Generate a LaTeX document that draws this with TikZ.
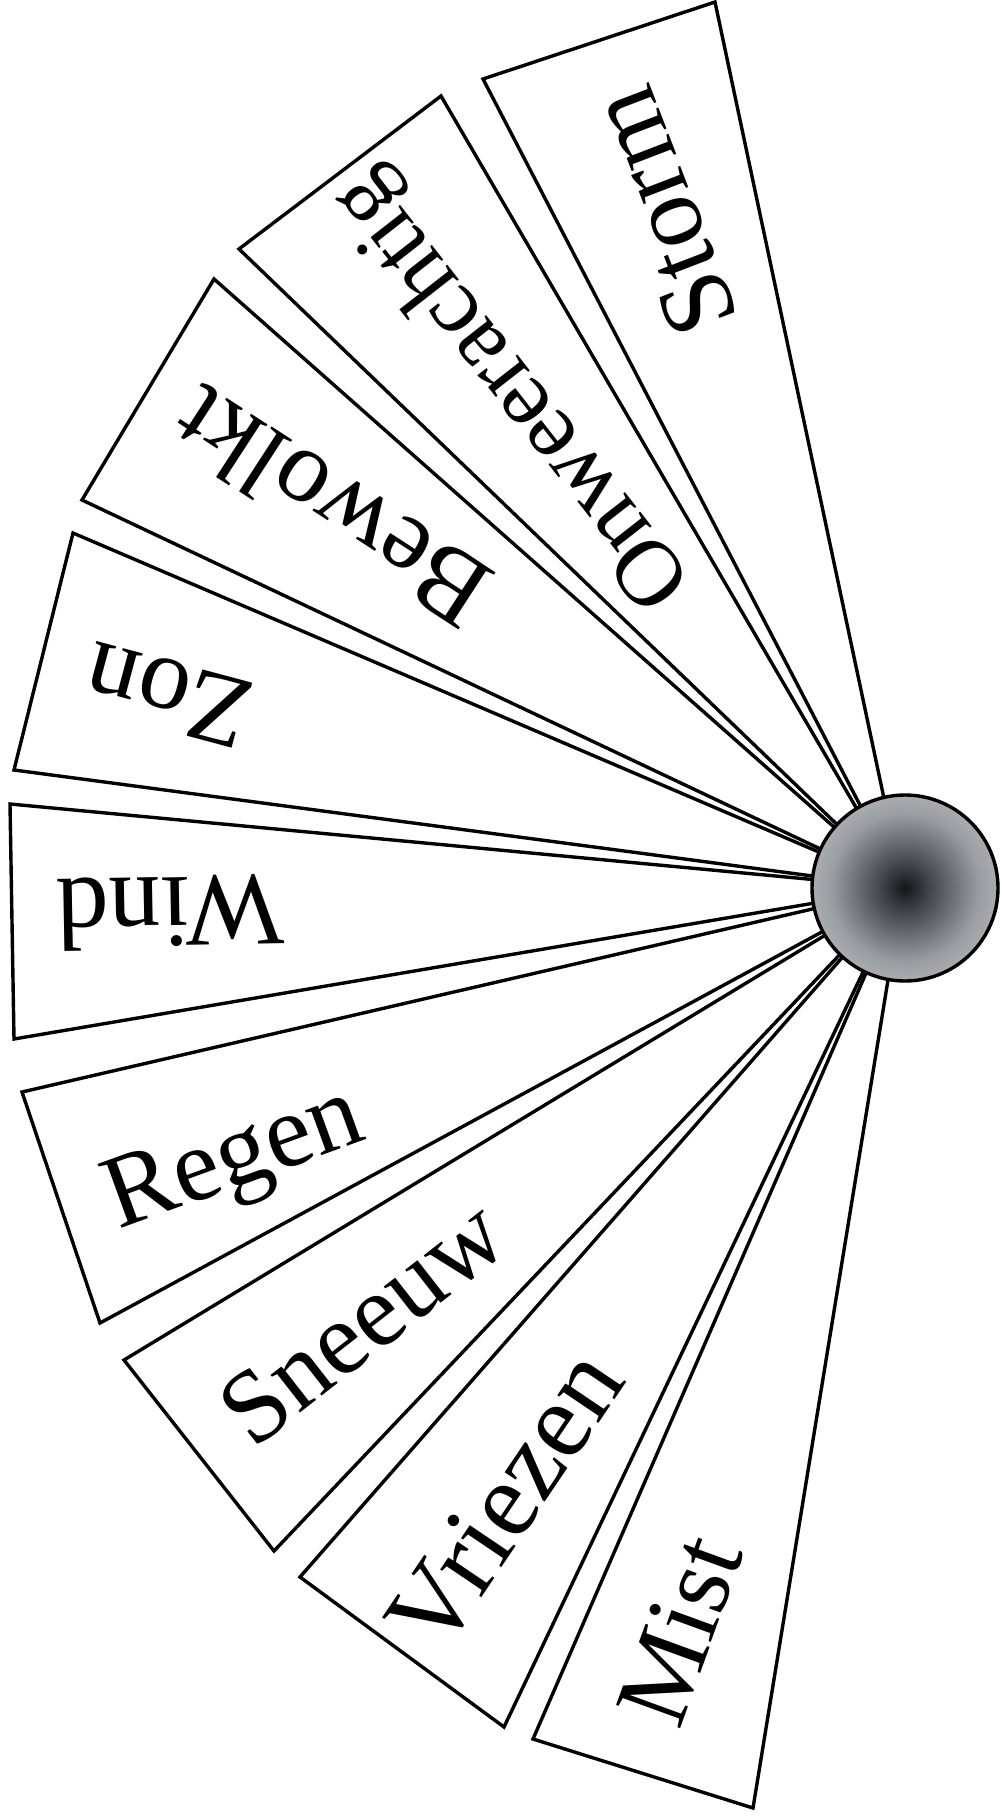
\documentclass[tikz,border=0pt]{standalone}
\usepackage{fontspec}
\setmainfont{Liberation Serif}
\definecolor{ballA}{HTML}{141619}
\definecolor{ballB}{HTML}{3E4146}
\definecolor{ballC}{HTML}{9A9DA1}
\definecolor{ballD}{HTML}{C9CBCE}
\definecolor{ballE}{HTML}{E6E8EA}
\pgfdeclareradialshading{ballshade}{\pgfpoint{0bp}{0bp}}{color(0bp)=(ballA); color(6bp)=(ballB); color(20bp)=(ballC); color(35bp)=(ballD); color(50bp)=(ballE)}
\begin{document}
\begin{tikzpicture}[x=1pt,y=-1pt,
  strip/.style={draw=black, fill=white, line width=3.4pt, line join=miter},
  lbl/.style={font=\fontsize{104}{110}\selectfont, inner sep=0pt},
  ballnode/.style={circle, minimum size=186pt, inner sep=0pt, draw=black, line width=3.4pt, shading=ballshade}]
\useasboundingbox (0,0) rectangle (1001,1819);
\fill[white] (0,0) rectangle (1001,1819);
\coordinate (C) at (903,888);
% outer corners
\coordinate (st1) at (483,79);   \coordinate (st2) at (715,2);
\coordinate (on1) at (239,249);  \coordinate (on2) at (441,96);
\coordinate (be1) at (82,500);   \coordinate (be2) at (214,279);
\coordinate (zo1) at (14,770);   \coordinate (zo2) at (73,533);
\coordinate (wi1) at (10,804);   \coordinate (wi2) at (14,1039);
\coordinate (re1) at (22,1092);  \coordinate (re2) at (100,1323);
\coordinate (sn1) at (124,1360); \coordinate (sn2) at (274,1551);
\coordinate (vr1) at (300,1577); \coordinate (vr2) at (504,1727);
\coordinate (mi1) at (533,1739); \coordinate (mi2) at (753,1808);
% strips
\foreach \a/\b in {st1/st2,on1/on2,be1/be2,zo1/zo2,wi1/wi2,re1/re2,sn1/sn2,vr1/vr2,mi1/mi2}
  \draw[strip] (C) -- (\a) -- (\b) -- cycle;
% labels
\node[lbl, rotate=111] (tstorm) at (662,212) {Storm};
\node[lbl, rotate=128, font=\fontsize{94}{100}\selectfont] (tonweer) at (515,388) {Onweerachtig};
\node[lbl, rotate=147] (tbewolkt) at (331,508) {Bewolkt};
\node[lbl, rotate=165] (tzon) at (168,695) {Zon};
\node[lbl, rotate=181] (twind) at (171,913) {Wind};
\node[lbl, rotate=20] (tregen) at (236,1163) {Regen};
\node[lbl, rotate=38] (tsneeuw) at (362,1322) {Sneeuw};
\node[lbl, rotate=56, font=\fontsize{108}{114}\selectfont] (tvriezen) at (505,1500) {Vriezen};
\node[lbl, rotate=70] (tmist) at (680,1630) {Mist};
% ball
\node[ballnode] (ball) at (905,888) {};
\end{tikzpicture}
\end{document}
